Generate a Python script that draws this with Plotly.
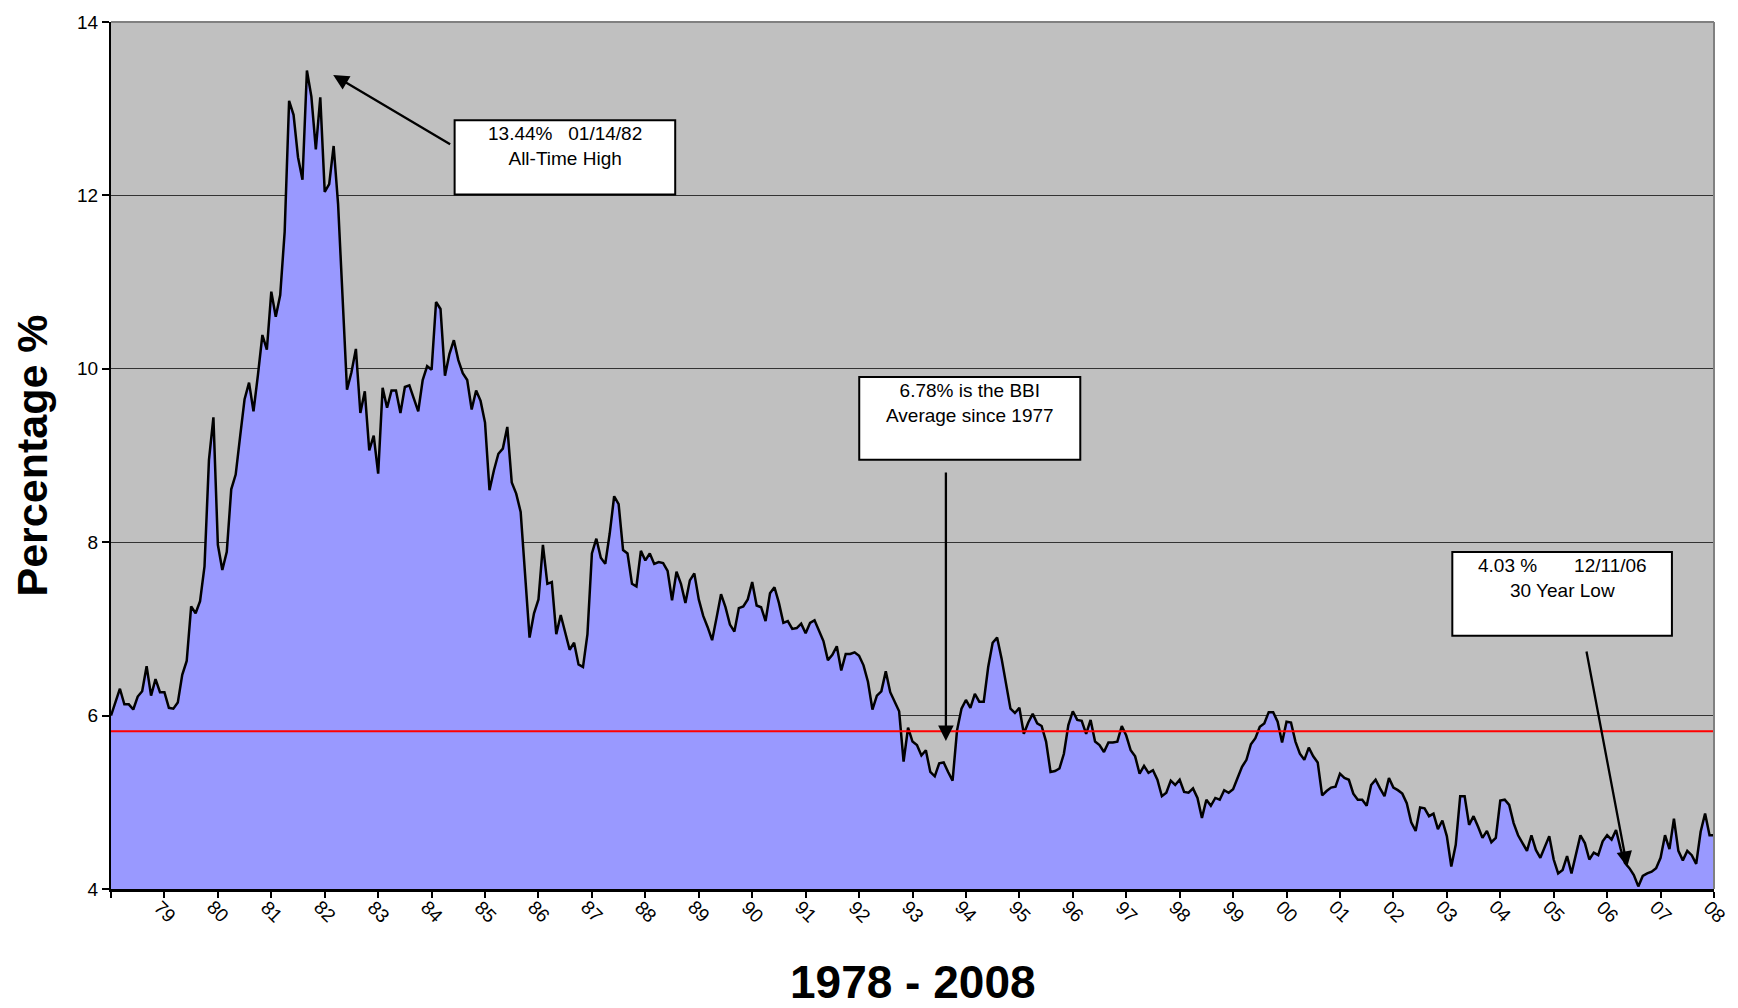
import plotly.graph_objects as go

# Bond Buyer Index, monthly readings in percent, January 1978 onward
rates_1978_1982 = [
    6.00, 6.16, 6.31, 6.13, 6.13, 6.07, 6.22, 6.28, 6.57, 6.23, 6.42, 6.27,
    6.27, 6.09, 6.08, 6.15, 6.47, 6.63, 7.26, 7.18, 7.32, 7.72, 8.95, 9.44,
    7.97, 7.68, 7.89, 8.61, 8.78, 9.22, 9.65, 9.84, 9.51, 9.93, 10.39, 10.22,
    10.89, 10.60, 10.85, 11.58, 13.09, 12.93, 12.44, 12.18, 13.44, 13.14, 12.53, 13.13,
    12.04, 12.13, 12.57, 11.90, 10.85, 9.76, 9.96, 10.23, 9.49, 9.74, 9.06, 9.23,
]
rates_1983_1987 = [
    8.79, 9.78, 9.55, 9.75, 9.75, 9.49, 9.79, 9.81, 9.66, 9.51, 9.87, 10.03,
    9.99, 10.77, 10.69, 9.92, 10.17, 10.33, 10.10, 9.95, 9.87, 9.53, 9.75, 9.63,
    9.38, 8.60, 8.83, 9.02, 9.08, 9.33, 8.69, 8.56, 8.35, 7.66, 6.90, 7.18,
    7.34, 7.97, 7.52, 7.54, 6.94, 7.16, 6.95, 6.76, 6.84, 6.59, 6.56, 6.94,
    7.87, 8.04, 7.82, 7.75, 8.10, 8.53, 8.44, 7.91, 7.87, 7.52, 7.49, 7.90,
]
rates_1988_1992 = [
    7.79, 7.87, 7.75, 7.77, 7.76, 7.67, 7.33, 7.66, 7.52, 7.30, 7.56, 7.64,
    7.34, 7.15, 7.02, 6.87, 7.13, 7.40, 7.25, 7.05, 6.97, 7.24, 7.26, 7.34,
    7.54, 7.27, 7.25, 7.09, 7.41, 7.48, 7.30, 7.07, 7.09, 7.00, 7.01, 7.06,
    6.95, 7.07, 7.10, 6.99, 6.86, 6.64, 6.70, 6.80, 6.52, 6.71, 6.71, 6.73,
    6.69, 6.58, 6.39, 6.07, 6.23, 6.28, 6.51, 6.27, 6.16, 6.05, 5.47, 5.86,
]
rates_1993_1997 = [
    5.70, 5.66, 5.54, 5.60, 5.35, 5.30, 5.45, 5.46, 5.35, 5.25, 5.83, 6.08,
    6.18, 6.09, 6.25, 6.16, 6.16, 6.56, 6.84, 6.90, 6.66, 6.37, 6.08, 6.03,
    6.09, 5.79, 5.92, 6.02, 5.91, 5.88, 5.70, 5.35, 5.36, 5.39, 5.56, 5.89,
    6.05, 5.95, 5.94, 5.79, 5.95, 5.70, 5.66, 5.58, 5.69, 5.69, 5.70, 5.88,
    5.77, 5.60, 5.53, 5.33, 5.42, 5.34, 5.37, 5.26, 5.07, 5.11, 5.25, 5.20,
]
rates_1998_2002 = [
    5.26, 5.12, 5.11, 5.16, 5.05, 4.82, 5.03, 4.96, 5.05, 5.03, 5.14, 5.11,
    5.15, 5.28, 5.41, 5.49, 5.67, 5.74, 5.87, 5.91, 6.04, 6.04, 5.93, 5.69,
    5.93, 5.92, 5.70, 5.56, 5.49, 5.63, 5.53, 5.46, 5.08, 5.13, 5.17, 5.18,
    5.33, 5.28, 5.26, 5.10, 5.03, 5.03, 4.96, 5.20, 5.26, 5.16, 5.07, 5.28,
    5.17, 5.14, 5.10, 4.99, 4.77, 4.67, 4.94, 4.93, 4.84, 4.87, 4.69, 4.79,
]
rates_2003_2008 = [
    4.61, 4.26, 4.51, 5.07, 5.07, 4.74, 4.84, 4.72, 4.59, 4.67, 4.54, 4.59,
    5.02, 5.03, 4.97, 4.76, 4.62, 4.53, 4.44, 4.62, 4.45, 4.36, 4.49, 4.61,
    4.34, 4.18, 4.22, 4.38, 4.18, 4.39, 4.62, 4.53, 4.34, 4.42, 4.39, 4.55,
    4.62, 4.57, 4.68, 4.47, 4.30, 4.24, 4.16, 4.03, 4.15, 4.18, 4.20, 4.24,
    4.36, 4.62, 4.46, 4.81, 4.44, 4.33, 4.44, 4.39, 4.29, 4.66, 4.87, 4.62,
    4.62,
]

year_labels = ["79", "80", "81", "82", "83", "84", "85", "86", "87", "88",
               "89", "90", "91", "92", "93", "94", "95", "96", "97", "98",
               "99", "00", "01", "02", "03", "04", "05", "06", "07", "08"]

average_level = 5.82

bbi_rates = (rates_1978_1982 + rates_1983_1987 + rates_1988_1992
             + rates_1993_1997 + rates_1998_2002 + rates_2003_2008)
month_index = list(range(len(bbi_rates)))
months_per_label = 12
tick_positions = [months_per_label * k for k in range(len(year_labels) + 1)]

FONT = "Liberation Sans, Arial, sans-serif"

fig = go.Figure()

fig.add_trace(go.Scatter(
    x=month_index, y=bbi_rates, mode="lines",
    line=dict(color="black", width=2.5),
    fill="tozeroy", fillcolor="#9999FF",
    hoverinfo="skip", showlegend=False,
))

fig.add_trace(go.Scatter(
    x=[month_index[0], month_index[-1]], y=[average_level, average_level],
    mode="lines", line=dict(color="#FF0000", width=2),
    hoverinfo="skip", showlegend=False,
))

annotations = []

# Year labels under each tick, tilted
for pos, lab in zip(tick_positions[1:], year_labels):
    annotations.append(dict(
        x=pos, xref="x", y=-0.0263, yref="paper",
        text=lab, textangle=45, showarrow=False,
        xanchor="center", yanchor="middle",
        font=dict(family=FONT, size=19, color="black"),
    ))

# Axis titles
annotations.append(dict(
    x=-0.0499, xref="paper", y=0.5, yref="paper",
    text="<b>Percentage %</b>", textangle=-90, showarrow=False,
    xanchor="center", yanchor="middle",
    font=dict(family=FONT, size=43, color="black"),
))
annotations.append(dict(
    x=0.5, xref="paper", y=-0.1074, yref="paper",
    text="<b>1978 - 2008</b>", showarrow=False,
    xanchor="center", yanchor="middle", borderpad=0,
    font=dict(family=FONT, size=46, color="black"),
))

# Callout boxes: (x0, x1, y0, y1, text centre y, text)
NB = "\u00a0"
callouts = [
    (77.17, 126.71, 12.01, 12.866, 12.565,
     f"13.44%{NB*3}01/14/82<br>All-Time High"),
    (168.04, 217.68, 8.952, 9.905, 9.607,
     "6.78% is the BBI<br>Average since 1977"),
    (301.23, 350.55, 6.921, 7.886, 7.591,
     f"4.03 %{NB*7}12/11/06<br>30 Year Low"),
]
shapes = []
for x0, x1, y0, y1, ty, txt in callouts:
    shapes.append(dict(
        type="rect", xref="x", yref="y", x0=x0, x1=x1, y0=y0, y1=y1,
        fillcolor="white", line=dict(color="black", width=2), layer="above",
    ))
    annotations.append(dict(
        x=(x0 + x1) / 2, xref="x", y=ty, yref="y",
        text=txt, showarrow=False, xanchor="center", yanchor="middle",
        font=dict(family=FONT, size=19, color="black"),
    ))

# Arrows: (tail x, tail y, head x, head y)
arrows = [
    (76.5, 12.58, 49.9, 13.39),
    (187.5, 8.822, 187.5, 5.707),
    (331.3, 6.756, 340.5, 4.255),
]
for ax_, ay_, hx, hy in arrows:
    annotations.append(dict(
        x=hx, y=hy, xref="x", yref="y",
        ax=ax_, ay=ay_, axref="x", ayref="y",
        text="", showarrow=True, arrowhead=2, arrowsize=1.35,
        arrowwidth=2.3, arrowcolor="black", standoff=0,
    ))

# Grey frame on the top and right sides of the plot area
shapes.append(dict(type="line", xref="paper", yref="paper", x0=0, x1=1, y0=1, y1=1,
                   line=dict(color="#808080", width=2), layer="above"))
shapes.append(dict(type="line", xref="paper", yref="paper", x0=1, x1=1, y0=0, y1=1,
                   line=dict(color="#808080", width=2), layer="above"))

fig.update_layout(
    width=1738, height=1008,
    margin=dict(l=111, r=24, t=16, b=119),
    paper_bgcolor="white", plot_bgcolor="#C0C0C0",
    font=dict(family=FONT, color="black"),
    showlegend=False,
    annotations=annotations, shapes=shapes,
    xaxis=dict(
        range=[0, tick_positions[-1]], tickvals=tick_positions,
        showticklabels=False, ticks="outside", ticklen=6, tickwidth=1.5,
        tickcolor="black", showgrid=False, zeroline=False,
        showline=True, linecolor="black", linewidth=3,
    ),
    yaxis=dict(
        range=[4, 14], tick0=4, dtick=2,
        ticks="outside", ticklen=7, tickwidth=1.5, tickcolor="black",
        tickfont=dict(family=FONT, size=19, color="black"),
        showgrid=True, gridcolor="#333333", gridwidth=1, zeroline=False,
        showline=True, linecolor="black", linewidth=2,
    ),
)

fig.write_html("out.html")
